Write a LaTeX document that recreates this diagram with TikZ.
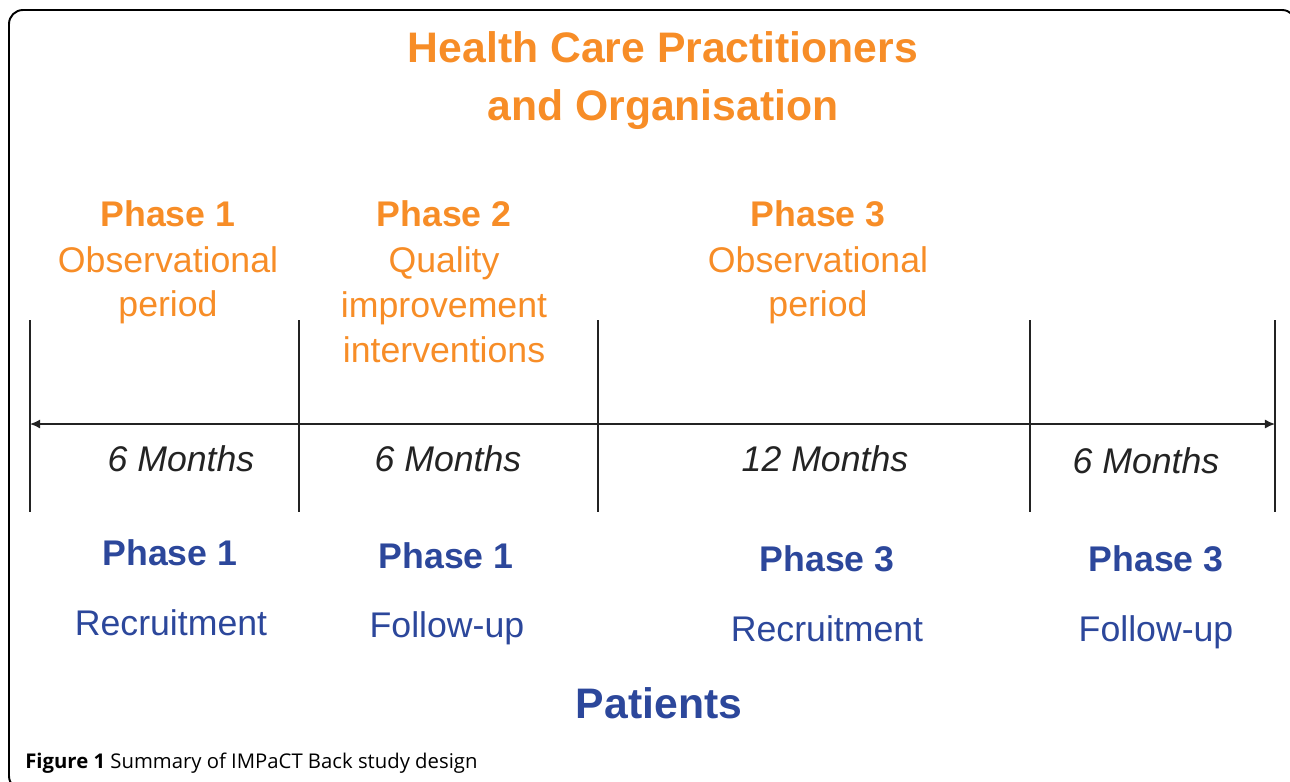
\documentclass[tikz,border=0pt]{standalone}
\usepackage{fontspec}
\setmainfont{Liberation Sans}
\newfontfamily\capfont{Open Sans}
\usepackage{tikz}
\usetikzlibrary{positioning, arrows, arrows.meta}
\definecolor{hcporange}{RGB}{247,141,39}
\definecolor{ptblue}{RGB}{44,71,155}
\definecolor{lineblk}{RGB}{35,35,35}
\tikzstyle{arrow} = [line width=0.8pt, {Latex[length=5.8pt,width=5.2pt]}-{Latex[length=5.8pt,width=5.2pt]}]

\begin{document}
\begin{tikzpicture}[
    x=0.02cm, y=-0.02cm,
    every node/.style={
        inner sep=0pt,
        anchor=base,
        font=\fontsize{20.3}{24}\selectfont
    },
    title/.style={text=hcporange, font=\fontsize{24.3}{29}\selectfont\bfseries},
    hcphead/.style={text=hcporange, font=\fontsize{20.3}{24}\selectfont\bfseries},
    hcptext/.style={text=hcporange},
    months/.style={text=lineblk, font=\fontsize{20.3}{24}\selectfont\itshape},
    pthead/.style={text=ptblue, font=\fontsize{20.3}{24}\selectfont\bfseries},
    pttext/.style={text=ptblue},
    divider/.style={draw=lineblk, line width=0.8pt}
]
\useasboundingbox (0,0) rectangle (1290,781);
\clip (0,0) rectangle (1290,781);

% frame
\draw[line width=1.1pt, rounded corners=0.28cm] (9,10) rectangle (1296,790);

% ======================
% Health care practitioners (top)
% ======================
\node[title] (hcp_title1) at (663,62) {Health Care Practitioners};
\node[title] (hcp_title2) at (663,120) {and Organisation};

\node[hcphead] (hcp_ph1) at (168,226) {Phase 1};
\node[hcptext] (hcp_ph1a) at (168,272) {Observational};
\node[hcptext] (hcp_ph1b) at (168,316) {period};

\node[hcphead] (hcp_ph2) at (444,226) {Phase 2};
\node[hcptext] (hcp_ph2a) at (444,272) {Quality};
\node[hcptext] (hcp_ph2b) at (444,317) {improvement};
\node[hcptext] (hcp_ph2c) at (444,362) {interventions};

\node[hcphead] (hcp_ph3) at (818,226) {Phase 3};
\node[hcptext] (hcp_ph3a) at (818,272) {Observational};
\node[hcptext] (hcp_ph3b) at (818,316) {period};

% ======================
% Timeline
% ======================
\foreach \name/\xx in {t0/30, t1/299, t2/598, t3/1030, t4/1275} {
    \coordinate (\name_top) at (\xx,320);
    \coordinate (\name_bot) at (\xx,512);
    \coordinate (\name) at (\xx,424);
    \draw[divider] (\name_top) -- (\name_bot);
}
\draw[arrow, lineblk] (t0) -- (t4);

\node[months] (dur1) at (181,471) {6 Months};
\node[months] (dur2) at (448,471) {6 Months};
\node[months] (dur3) at (825,471) {12 Months};
\node[months] (dur4) at (1146,473) {6 Months};

% ======================
% Patients (bottom)
% ======================
\node[pthead] (pt_ph1) at (170,565) {Phase 1};
\node[pttext] (pt_rec1) at (171,635) {Recruitment};

\node[pthead] (pt_fu1h) at (446,568) {Phase 1};
\node[pttext] (pt_fu1) at (447,637) {Follow-up};

\node[pthead] (pt_ph3) at (827,571) {Phase 3};
\node[pttext] (pt_rec3) at (827,641) {Recruitment};

\node[pthead] (pt_fu3h) at (1156,571) {Phase 3};
\node[pttext] (pt_fu3) at (1156,641) {Follow-up};

\node[title, text=ptblue] (pt_title) at (659,718) {Patients};

% caption
\node[anchor=base west, font=\capfont\fontsize{11.55}{14}\selectfont] (caption) at (25,768)
    {\textbf{Figure 1} Summary of IMPaCT Back study design};

\end{tikzpicture}
\end{document}
